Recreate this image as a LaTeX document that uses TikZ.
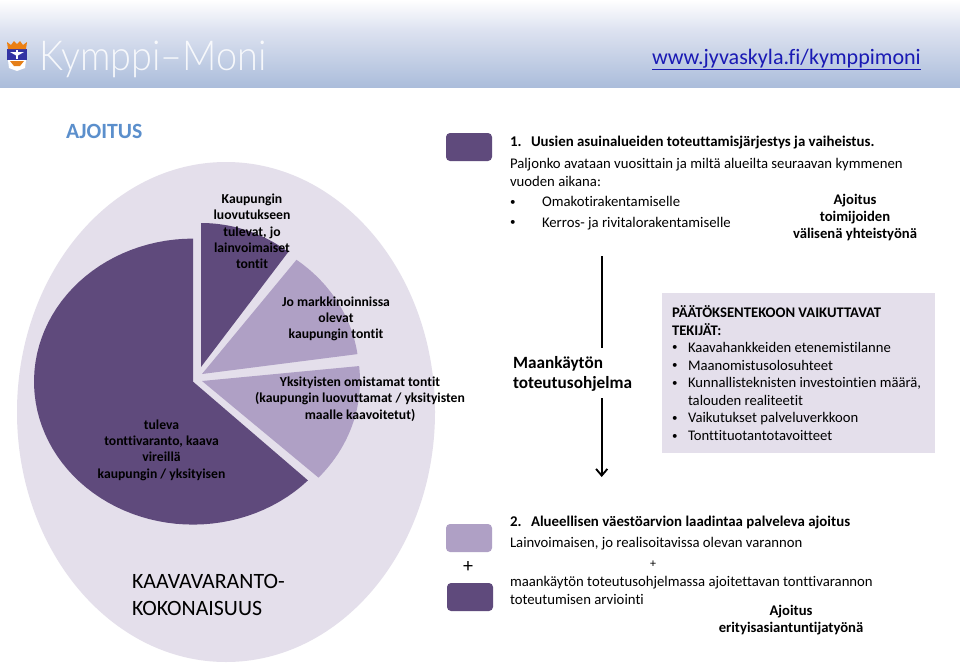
\documentclass[tikz,border=0pt]{standalone}
\usepackage{fontspec}
\setmainfont[Ligatures=NoCommon]{Carlito}
\newfontfamily\logofont{Lato Light}
\usetikzlibrary{arrows.meta}
\definecolor{pdark}{HTML}{5F4A7C}
\definecolor{plight}{HTML}{AFA0C5}
\definecolor{pbg}{HTML}{E4DFEB}
\definecolor{headb}{HTML}{ABBDDB}
\definecolor{headm}{HTML}{DDE2F0}
\definecolor{ajo}{HTML}{5B8FCC}
\definecolor{urlc}{HTML}{1A1AB4}
\newcommand{\fsz}[2]{\fontsize{#1}{#2}\selectfont}
\newcommand{\bul}{\raisebox{0.08em}{\scalebox{0.75}{•}}}
\tikzset{
  x=0.75pt,y=-0.75pt,
  every node/.style={inner sep=0pt,outer sep=0pt,text=black},
  body/.style={anchor=base west,font=\fsz{11.05}{13.5}},
  bodyb/.style={anchor=base west,font=\fsz{11.15}{13.5}\bfseries},
  boxt/.style={anchor=base west,font=\fsz{11}{13}},
  boxb/.style={anchor=base west,font=\fsz{11}{13}\bfseries},
  pielab/.style={align=center,font=\fsz{10.25}{12.2}\bfseries},
  cntr/.style={align=center,font=\fsz{11}{12.8}\bfseries},
  swatch/.style={rounded corners=3pt,minimum width=34.5pt,minimum height=21pt},
  vline/.style={line width=1.4pt,black},
}
\begin{document}
\begin{tikzpicture}
\useasboundingbox (0,0) rectangle (960,664);
\fill[white] (0,0) rectangle (960,664);
% header
\shade[top color=white,bottom color=headm] (0,0) rectangle (960,30);
\shade[top color=headm,bottom color=headb] (0,30) rectangle (960,87);
% crest
\fill[white] (8,60) -- (26,60) -- (25,68) -- (17,71) -- (9,68) -- cycle;
\fill[blue!55!black!80] (7,49) -- (27,49) -- (27,60) -- (7,60) -- cycle;
\fill[white] (16,50) -- (18,50) -- (18,59) -- (16,59) -- cycle;
\fill[white] (10,52) -- (24,52) -- (17,56) -- cycle;
\fill[orange!70!brown] (7,42) -- (11,45) -- (14,41) -- (17,44) -- (20,41) -- (23,45) -- (27,42) -- (26,49) -- (8,49) -- cycle;
\fill[orange!60!brown] (10,61) -- (24,61) -- (20,66) -- (14,66) -- cycle;
\node[anchor=base west,text=white,opacity=0.85,xscale=0.915,font=\logofont\fsz{31}{36}] (logo) at (39,70) {Kymppi–Moni};
\node[anchor=base west,text=urlc,font=\fsz{16.55}{20}] (url) at (652,64) {\underline{www.jyvaskyla.fi/kymppimoni}};
% title
\node[anchor=base west,text=ajo,font=\fsz{16.3}{20}\bfseries] (title) at (66,138) {AJOITUS};
% pie
\fill[pbg] (226,412) ellipse [x radius=209,y radius=250];
\fill[pdark] (193,381.6) -- plot[domain=-90:-316.3,samples=70] ({193+159*cos(\x)},{381.6+143*sin(\x)}) -- cycle;
\fill[pdark] (201,367) -- plot[domain=-90:-53,samples=25] ({201+145*cos(\x)},{367+144*sin(\x)}) -- cycle;
\fill[plight] (202,374) -- plot[domain=-53:-8,samples=25] ({202+157*cos(\x)},{374+143*sin(\x)}) -- cycle;
\fill[plight] (202,381) -- plot[domain=-6:42.5,samples=25] ({202+158*cos(\x)},{381+143*sin(\x)}) -- cycle;
\node[pielab] (l1) at (252,231.5) {Kaupungin\\luovutukseen\\tulevat, jo\\lainvoimaiset\\tontit};
\node[pielab] (l2) at (336,319) {Jo markkinoinnissa\\olevat\\kaupungin tontit};
\node[pielab] (l3) at (360,399) {Yksityisten omistamat tontit\\(kaupungin luovuttamat / yksityisten\\maalle kaavoitetut)};
\node[pielab] (l4) at (161.5,450) {tuleva\\tonttivaranto, kaava\\vireillä\\kaupungin / yksityisen};
\node[anchor=west,align=left,font=\fsz{16.4}{20}] (kok) at (132,595) {KAAVAVARANTO-\\KOKONAISUUS};
% swatches
\node[swatch,fill=pdark] (s1) at (469,147) {};
\node[swatch,fill=plight] (s2) at (469,538) {};
\node[anchor=center,font=\fsz{15}{18}] (plus) at (468,567) {+};
\node[swatch,fill=pdark] (s3) at (470,597) {};
% section 1
\node[bodyb] (a1) at (510,146.7) {1.};
\node[bodyb] (a2) at (531,146.7) {Uusien asuinalueiden toteuttamisjärjestys ja vaiheistus.};
\node[body] (a3) at (510,168) {Paljonko avataan vuosittain ja miltä alueilta seuraavan kymmenen};
\node[body] (a4) at (510,186) {vuoden aikana:};
\node[body] (a5) at (510,206.7) {\bul};
\node[body] (a6) at (542,206.7) {Omakotirakentamiselle};
\node[body] (a7) at (510,227) {\bul};
\node[body] (a8) at (542,227) {Kerros- ja rivitalorakentamiselle};
\node[cntr] (a9) at (855,217.5) {Ajoitus\\toimijoiden\\välisenä yhteistyönä};
% middle
\coordinate (v1) at (601.7,256);
\coordinate (v2) at (601.7,348);
\coordinate (v3) at (601.7,398);
\coordinate (v4) at (601.7,477);
\draw[vline] (v1) -- (v2);
\draw[vline,-{Straight Barb[length=5pt,width=8.5pt]}] (v3) -- (v4);
\node[anchor=west,align=left,font=\fsz{12.9}{15}\bfseries] (mk) at (513,373.5) {Maankäytön\\toteutusohjelma};
% factors box
\fill[pbg] (662,293) rectangle (935,453);
\node[boxb] (b0) at (672,317) {PÄÄTÖKSENTEKOON VAIKUTTAVAT};
\node[boxb] (b1) at (672,335) {TEKIJÄT:};
\node[boxt] (c1) at (672,352) {\bul};
\node[boxt] (d1) at (688,352) {Kaavahankkeiden etenemistilanne};
\node[boxt] (c2) at (672,370) {\bul};
\node[boxt] (d2) at (688,370) {Maanomistusolosuhteet};
\node[boxt] (c3) at (672,387.7) {\bul};
\node[boxt] (d3) at (688,387.7) {Kunnallisteknisten investointien määrä,};
\node[boxt] (d4) at (688,405) {talouden realiteetit};
\node[boxt] (c5) at (672,422.7) {\bul};
\node[boxt] (d5) at (688,422.7) {Vaikutukset palveluverkkoon};
\node[boxt] (c6) at (672,440.7) {\bul};
\node[boxt] (d6) at (688,440.7) {Tonttituotantotavoitteet};
% section 2
\node[bodyb] (e1) at (510,526) {2.};
\node[bodyb] (e2) at (531,526) {Alueellisen väestöarvion laadintaa palveleva ajoitus};
\node[body] (e3) at (510,547) {Lainvoimaisen, jo realisoitavissa olevan varannon};
\node[anchor=center,font=\fsz{9}{11}] (e4) at (653,564) {+};
\node[body] (e5) at (510,586.7) {maankäytön toteutusohjelmassa ajoitettavan tonttivarannon};
\node[body] (e6) at (510,604) {toteutumisen arviointi};
\node[cntr] (e7) at (791,620) {Ajoitus\\erityisasiantuntijatyönä};
\end{tikzpicture}
\end{document}
